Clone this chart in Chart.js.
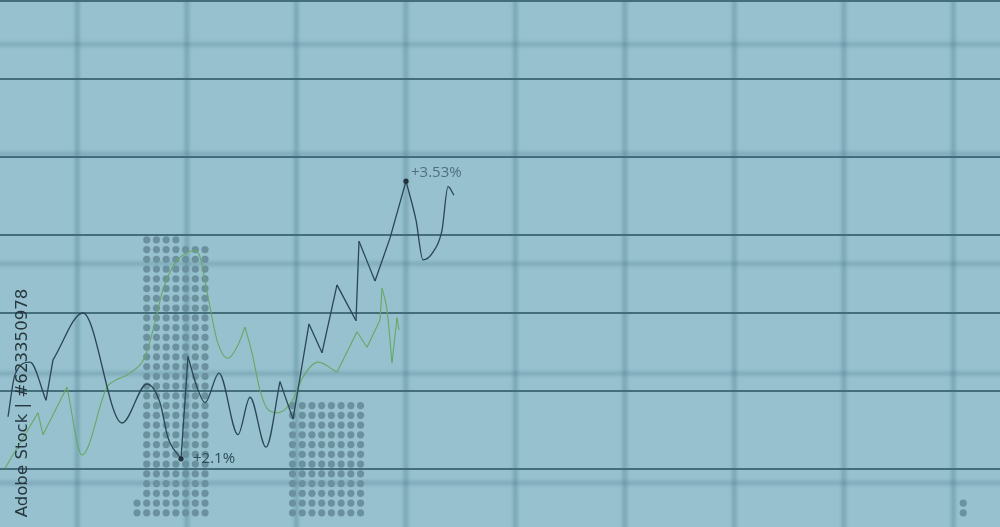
<!DOCTYPE html>
<html>
<head>
<meta charset="utf-8">
<title>Chart</title>
<script src="https://cdn.jsdelivr.net/npm/chart.js@4.4.1/dist/chart.umd.min.js"></script>
<style>
  html, body { margin: 0; padding: 0; background: #97c1cf; }
  #wrap { width: 1000px; height: 527px; position: relative; }
</style>
</head>
<body>
<div id="wrap"><canvas id="chart"></canvas></div>
<script>
// dark series (time, value)
const darkX = [0.8, 1.5, 3.0, 4.6, 5.3, 8.3, 12.2, 14.7, 16.0, 16.8, 18.1, 18.8, 19.7, 20.5, 21.9, 23.8, 25.0, 26.6, 28.0, 29.3, 30.9, 32.2, 33.7, 35.6, 35.9, 37.5, 39.0, 40.6, 41.6, 42.3, 43.3, 44.2, 44.8, 45.4];
const darkY = [0.67, 1.21, 1.37, 0.88, 1.40, 2.00, 0.59, 1.09, 0.85, 0.40, 0.13, 1.44, 1.05, 0.85, 1.23, 0.44, 0.92, 0.28, 1.12, 0.64, 1.86, 1.49, 2.36, 1.90, 2.92, 2.41, 2.96, 3.69, 3.19, 2.68, 2.78, 3.06, 3.62, 3.51];
// indices where the dark line turns sharply
const darkCorners = [3, 4, 10, 11, 18, 19, 20, 21, 22, 23, 24, 25, 26, 27];

// green series
const greenX = [0.5, 3.8, 4.3, 6.7, 8.2, 10.7, 11.3, 13.0, 14.5, 15.3, 16.3, 17.5, 18.8, 19.5, 20.0, 20.8, 21.7, 22.8, 23.8, 24.5, 25.2, 26.0, 26.8, 27.8, 29.3, 30.3, 31.8, 33.7, 35.7, 36.7, 38.0, 38.2, 38.7, 39.2, 39.7, 39.9];
const greenY = [0.01, 0.72, 0.44, 1.05, 0.18, 1.05, 1.12, 1.23, 1.44, 1.78, 2.30, 2.64, 2.78, 2.80, 2.72, 2.21, 1.65, 1.42, 1.59, 1.82, 1.49, 1.01, 0.76, 0.72, 0.89, 1.18, 1.37, 1.24, 1.76, 1.56, 1.91, 2.32, 2.04, 1.36, 1.94, 1.78];
const greenCorners = [1, 2, 3, 19, 27, 28, 29, 30, 31, 33, 34];

// dot-matrix volume bars: column index and number of dots
const dotColumns = [0, 1, 2, 3, 4, 5, 6, 7, 16, 17, 18, 19, 20, 21, 22, 23, 85];
const dotCounts  = [2, 29, 29, 29, 29, 28, 28, 28, 12, 12, 12, 12, 12, 12, 12, 12, 2];

// marked points on the dark series
const markIndex = [10, 27];
const markText  = ['+2.1%', '+3.53%'];

const watermark = 'Adobe Stock | #623350978';

// layout of the dot grid and the soft background grid
const DOT_X0 = 13.7, DOT_DX = 0.972;
const DOT_Y0 = -0.5625, DOT_DY = 0.125;
const SOFT_X0 = 7.73, SOFT_DX = 10.95;
const SOFT_Y0 = -0.181, SOFT_DY = 1.4065;
const Y_MIN = -0.7436, Y_MAX = 6.0128;

const dotPoints = [];
dotColumns.forEach((c, i) => {
  for (let r = 0; r < dotCounts[i]; r++) {
    dotPoints.push({ x: DOT_X0 + c * DOT_DX, y: DOT_Y0 + r * DOT_DY });
  }
});

// cut a series at its corner points, each piece is drawn as its own smooth curve
function pieces(xs, ys, corners) {
  const cuts = [0].concat(corners, [xs.length - 1]);
  const out = [];
  for (let k = 0; k < cuts.length - 1; k++) {
    const part = [];
    for (let i = cuts[k]; i <= cuts[k + 1]; i++) part.push({ x: xs[i], y: ys[i] });
    out.push(part);
  }
  return out;
}

function lineSets(parts, color, width, order) {
  return parts.map(p => ({
    data: p,
    showLine: true,
    borderColor: color,
    borderWidth: width,
    pointRadius: 0,
    cubicInterpolationMode: 'monotone',
    order: order
  }));
}

const markPoints = markIndex.map(i => ({ x: darkX[i], y: darkY[i] }));

function range(start, step, max) {
  const out = [];
  for (let v = start; v <= max + 1e-9; v += step) out.push({ value: v });
  return out;
}

// blurred background grid, drawn under the marks
const softGrid = {
  id: 'softGrid',
  beforeDatasetsDraw(chart) {
    const ctx = chart.ctx, a = chart.chartArea;
    const xs = chart.scales.x, ys = chart.scales.y2;
    ctx.save();
    ctx.filter = 'blur(1.6px)';
    ctx.lineWidth = 5;
    ctx.strokeStyle = 'rgba(58, 106, 124, 0.28)';
    xs.ticks.forEach(t => {
      const px = xs.getPixelForValue(t.value);
      ctx.beginPath(); ctx.moveTo(px, a.top - 5); ctx.lineTo(px, a.bottom + 5); ctx.stroke();
    });
    ctx.strokeStyle = 'rgba(58, 106, 124, 0.22)';
    ys.ticks.forEach(t => {
      const py = ys.getPixelForValue(t.value);
      ctx.beginPath(); ctx.moveTo(a.left - 5, py); ctx.lineTo(a.right + 5, py); ctx.stroke();
    });
    ctx.restore();
  }
};

// labels next to the marked points + vertical stock id
const labelPlugin = {
  id: 'labels',
  afterDatasetsDraw(chart) {
    const ctx = chart.ctx;
    const xs = chart.scales.x, ys = chart.scales.y;
    const styles = [
      { dx: 12, dy: 0, color: '#2f4b57' },
      { dx: 5, dy: -8, color: '#50707e' }
    ];
    ctx.save();
    ctx.font = '15px "Open Sans", sans-serif';
    ctx.textBaseline = 'middle';
    markPoints.forEach((p, i) => {
      ctx.fillStyle = styles[i].color;
      ctx.fillText(markText[i], xs.getPixelForValue(p.x) + styles[i].dx, ys.getPixelForValue(p.y) + styles[i].dy);
    });
    ctx.restore();
  },
  afterDraw(chart) {
    const ctx = chart.ctx;
    ctx.save();
    ctx.translate(23, 403);
    ctx.rotate(-Math.PI / 2);
    ctx.font = '18px "DejaVu Sans", sans-serif';
    const w = ctx.measureText(watermark).width;
    const size = 18 * 229 / w;
    ctx.font = size.toFixed(1) + 'px "DejaVu Sans", sans-serif';
    ctx.fillStyle = '#26373e';
    ctx.textAlign = 'center';
    ctx.textBaseline = 'middle';
    ctx.fillText(watermark, 0, 0);
    ctx.restore();
  }
};

window.onload = function () {
  const ctx = document.getElementById('chart').getContext('2d');
  const datasets = [
    {
      label: 'marks',
      data: markPoints,
      pointRadius: 2.6,
      pointBackgroundColor: '#1d323b',
      pointBorderWidth: 0,
      showLine: false,
      order: 0
    }
  ]
    .concat(lineSets(pieces(darkX, darkY, darkCorners), '#2b4653', 1.3, 1))
    .concat(lineSets(pieces(greenX, greenY, greenCorners), '#68a863', 1.1, 2))
    .concat([{
      label: 'volume',
      data: dotPoints,
      showLine: false,
      pointRadius: 3.6,
      pointBackgroundColor: '#6b919f',
      pointBorderWidth: 0,
      order: 3
    }]);

  new Chart(ctx, {
    type: 'scatter',
    data: { datasets: datasets },
    options: {
      responsive: true,
      maintainAspectRatio: false,
      animation: false,
      layout: { padding: 0, autoPadding: false },
      plugins: {
        legend: { display: false },
        tooltip: { enabled: false }
      },
      scales: {
        x: {
          type: 'linear',
          min: 0,
          max: 100,
          afterBuildTicks: s => { s.ticks = range(SOFT_X0, SOFT_DX, 100); },
          ticks: { display: false },
          border: { display: false },
          grid: { display: false, drawTicks: false }
        },
        y2: {
          type: 'linear',
          position: 'right',
          min: Y_MIN,
          max: Y_MAX,
          afterBuildTicks: s => { s.ticks = range(SOFT_Y0, SOFT_DY, Y_MAX); },
          ticks: { display: false },
          border: { display: false },
          grid: { display: false, drawTicks: false }
        },
        y: {
          type: 'linear',
          min: Y_MIN,
          max: Y_MAX,
          z: 1,
          afterBuildTicks: s => { s.ticks = range(0, 1, 6); },
          ticks: { display: false },
          border: { display: false },
          grid: { color: '#456e7d', lineWidth: 2, drawTicks: false }
        }
      }
    },
    plugins: [softGrid, labelPlugin]
  });
};
</script>
</body>
</html>
